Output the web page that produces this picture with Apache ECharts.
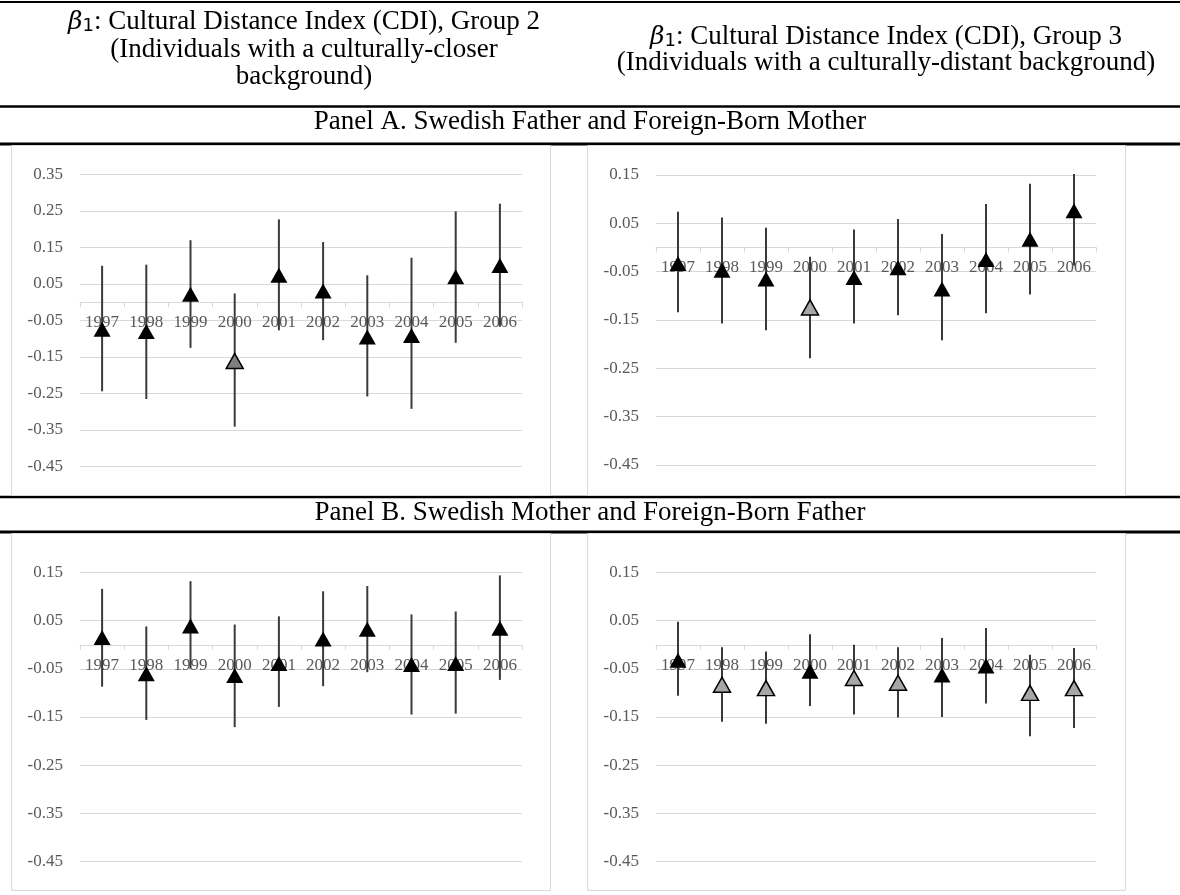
<!DOCTYPE html>
<html>
<head>
<meta charset="utf-8">
<title>Cultural Distance Index coefficients</title>
<script src="https://cdn.jsdelivr.net/npm/echarts@6/dist/echarts.min.js"></script>
<style>
html, body { margin: 0; padding: 0; background: #fff; }
#main { width: 1180px; height: 895px; }
</style>
</head>
<body>
<div id="main"></div>
<script>
// years on the category axis
var years = ['1997', '1998', '1999', '2000', '2001', '2002', '2003', '2004', '2005', '2006'];

// Panel A, group 2 (culturally-closer)
var coefA2 = [-0.074, -0.080, 0.022, -0.161, 0.074, 0.031, -0.095, -0.091, 0.070, 0.101];
var lowA2  = [-0.244, -0.265, -0.125, -0.341, -0.077, -0.104, -0.258, -0.292, -0.111, -0.067];
var highA2 = [0.100, 0.103, 0.170, 0.024, 0.227, 0.165, 0.074, 0.122, 0.249, 0.270];
var grayA2 = ['2000'];

// Panel A, group 3 (culturally-distant)
var coefA3 = [-0.033, -0.047, -0.065, -0.124, -0.062, -0.042, -0.086, -0.025, 0.017, 0.076];
var lowA3  = [-0.134, -0.157, -0.171, -0.229, -0.157, -0.140, -0.192, -0.136, -0.097, -0.037];
var highA3 = [0.074, 0.062, 0.041, -0.019, 0.037, 0.059, 0.028, 0.090, 0.132, 0.152];
var grayA3 = ['2000'];

// Panel B, group 2
var coefB2 = [0.015, -0.060, 0.039, -0.064, -0.039, 0.012, 0.032, -0.041, -0.039, 0.034];
var lowB2  = [-0.087, -0.156, -0.050, -0.171, -0.129, -0.086, -0.057, -0.145, -0.143, -0.073];
var highB2 = [0.116, 0.038, 0.132, 0.042, 0.059, 0.111, 0.122, 0.063, 0.069, 0.144];
var grayB2 = [];

// Panel B, group 3
var coefB3 = [-0.032, -0.083, -0.090, -0.055, -0.069, -0.079, -0.063, -0.044, -0.100, -0.090];
var lowB3  = [-0.106, -0.160, -0.164, -0.127, -0.145, -0.151, -0.150, -0.122, -0.190, -0.173];
var highB3 = [0.048, -0.005, -0.014, 0.022, 0.000, -0.005, 0.014, 0.035, -0.021, -0.007];
var grayB3 = ['1998', '1999', '2001', '2002', '2005', '2006'];

var yMin = -0.45;
var yMaxTop = [0.35, 0.15, 0.15, 0.15];

var dom = document.getElementById('main');
var myChart = echarts.init(dom);
window.addEventListener('resize', function () { myChart.resize(); });

var serif = '"Liberation Serif", "Times New Roman", serif';
var lblColor = '#595959';
var gridColor = '#d9d9d9';

var grids = [
    { left: 80, top: 174.5, width: 442, height: 292 },
    { left: 656, top: 175, width: 440, height: 290 },
    { left: 80, top: 572.5, width: 442, height: 289 },
    { left: 656, top: 572.5, width: 440, height: 289 }
];

var xAxes = [], yAxes = [];
grids.forEach(function (g, i) {
    // category axis sits at y = 0, so lift it up from the grid bottom
    var lift = g.height * (0 - yMin) / (yMaxTop[i] - yMin);
    xAxes.push({
        type: 'category',
        gridIndex: i,
        data: years,
        boundaryGap: true,
        position: 'bottom',
        offset: -lift,
        axisLine: { onZero: false, lineStyle: { color: gridColor, width: 1 } },
        axisTick: { show: true, length: 5, lineStyle: { color: gridColor } },
        axisLabel: { interval: 0, color: lblColor, fontFamily: serif, fontSize: 17, margin: 12 },
        splitLine: { show: false }
    });
    yAxes.push({
        type: 'value',
        gridIndex: i,
        min: yMin,
        max: yMaxTop[i],
        interval: 0.1,
        axisLine: { show: false },
        axisTick: { show: false },
        axisLabel: {
            color: lblColor, fontFamily: serif, fontSize: 17, margin: 17,
            formatter: function (v) { return v.toFixed(2); }
        },
        splitLine: { lineStyle: { color: gridColor, width: 1 } }
    });
});

function errorBar(params, api) {
    var x = api.value(0);
    var lo = api.coord([x, api.value(1)]);
    var hi = api.coord([x, api.value(2)]);
    return {
        type: 'line',
        shape: { x1: lo[0], y1: lo[1], x2: hi[0], y2: hi[1] },
        style: { stroke: '#3a3a3a', lineWidth: 2 }
    };
}

function panelSeries(idx, coef, low, high, gray, grayFill) {
    var bars = years.map(function (y, i) { return [i, low[i], high[i]]; });
    var pts = years.map(function (y, i) {
        var item = { value: [i, coef[i]] };
        if (gray.indexOf(y) >= 0) {
            item.itemStyle = { color: grayFill, borderColor: '#000', borderWidth: 1.5 };
        }
        return item;
    });
    return [
        {
            type: 'custom',
            xAxisIndex: idx, yAxisIndex: idx,
            renderItem: errorBar,
            encode: { x: 0, y: [1, 2] },
            data: bars,
            silent: true,
            z: 3
        },
        {
            type: 'scatter',
            xAxisIndex: idx, yAxisIndex: idx,
            symbol: 'triangle',
            symbolSize: [17, 15],
            itemStyle: { color: '#000', opacity: 1 },
            data: pts,
            silent: true,
            z: 4
        }
    ];
}

var series = [].concat(
    panelSeries(0, coefA2, lowA2, highA2, grayA2, '#7f7f7f'),
    panelSeries(1, coefA3, lowA3, highA3, grayA3, '#a6a6a6'),
    panelSeries(2, coefB2, lowB2, highB2, grayB2, '#a6a6a6'),
    panelSeries(3, coefB3, lowB3, highB3, grayB3, '#a6a6a6')
);

function rule(y, w) {
    return { type: 'line', z: -20, shape: { x1: 0, y1: y, x2: 1180, y2: y }, style: { stroke: '#000', lineWidth: w } };
}
function box(x, y, w, h) {
    return { type: 'rect', z: -10, shape: { x: x, y: y, width: w, height: h }, style: { fill: '#fff', stroke: gridColor, lineWidth: 1 } };
}
function txt(s, x, y, rich) {
    var st = { text: s, x: x, y: y, fill: '#000', font: '27px ' + serif, align: 'center', verticalAlign: 'middle' };
    if (rich) st.rich = rich;
    return { type: 'text', z: 5, style: st };
}
var betaRich = {
    b: { fontFamily: '"DejaVu Serif", serif', fontStyle: 'italic', fontSize: 25, fill: '#000' },
    s: { fontFamily: '"DejaVu Sans", sans-serif', fontSize: 18, fill: '#000', padding: [9, 0, 0, 0] },
    t: { fontFamily: serif, fontSize: 27, fill: '#000' }
};

var graphics = [
    rule(2, 2), rule(106.5, 2.5), rule(144, 3), rule(497, 2.5), rule(532, 3),
    box(11.5, 145.5, 539, 350),
    box(587.5, 145.5, 538, 350),
    box(11.5, 533.5, 539, 357),
    box(587.5, 533.5, 538, 357),
    txt('{b|β}{s|1}{t|: Cultural Distance Index (CDI), Group 2}', 304, 22, betaRich),
    txt('(Individuals with a culturally-closer', 304, 50),
    txt('background)', 304, 77),
    txt('{b|β}{s|1}{t|: Cultural Distance Index (CDI), Group 3}', 886, 37, betaRich),
    txt('(Individuals with a culturally-distant background)', 886, 63),
    txt('Panel A. Swedish Father and Foreign-Born Mother', 590, 122),
    txt('Panel B. Swedish Mother and Foreign-Born Father', 590, 513)
];

option = {
    animation: false,
    grid: grids,
    xAxis: xAxes,
    yAxis: yAxes,
    series: series,
    graphic: { elements: graphics }
};

if (option && typeof option === 'object') {
    myChart.setOption(option, true);
}
</script>
</body>
</html>
